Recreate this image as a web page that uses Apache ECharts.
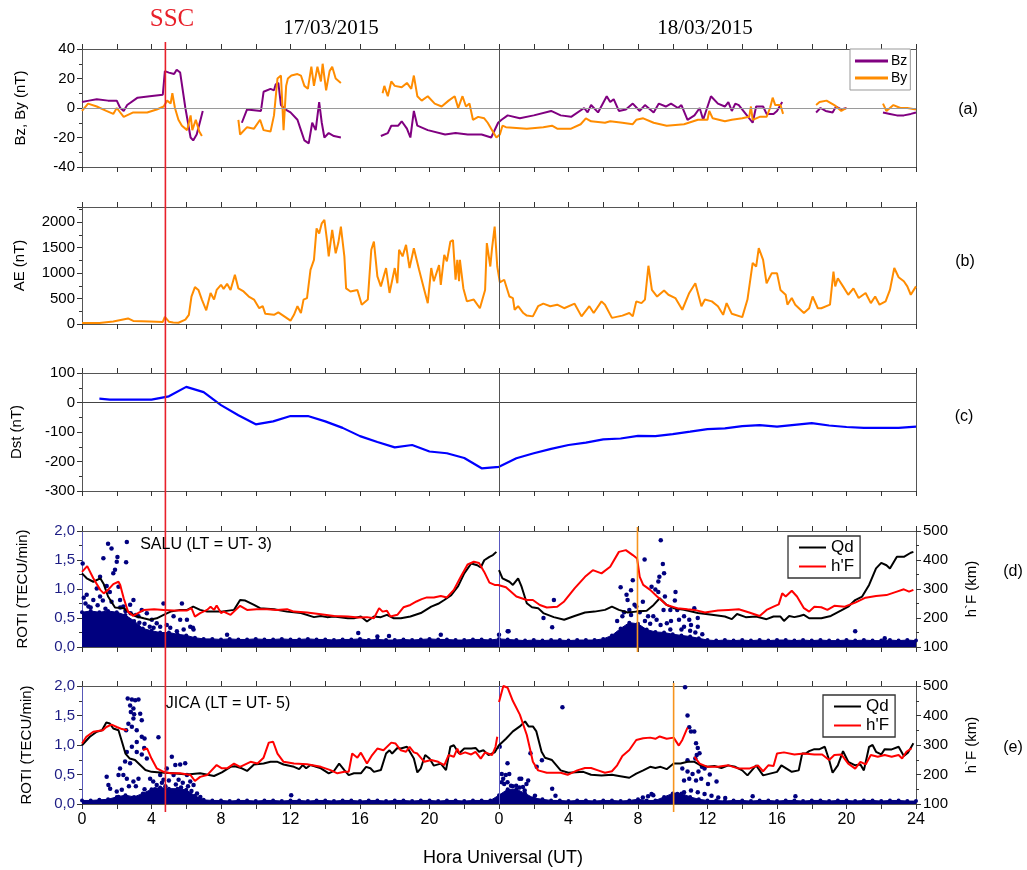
<!DOCTYPE html>
<html><head><meta charset="utf-8">
<script src="https://cdn.jsdelivr.net/npm/echarts@6/dist/echarts.min.js"></script>
<style>html,body{margin:0;padding:0;background:#fff}#c{width:1027px;height:870px}</style>
</head><body><div id="c"></div>
<script>
// ---------- DATA (hours counted from 17/03/2015 00 UT; 24..48 = 18/03/2015) ----------
const xTickLabels = ['0','4','8','12','16','20','0','4','8','12','16','20','24'];
const SSC_UT = 4.8;
const SPREADF_SALU = 31.97;
const SPREADF_JICA = 34.05;

const bz = [[0,4],[0.4,5],[0.85,6],[1.5,5],[2.0,5],[2.2,0],[2.4,-2],[2.6,2],[3.2,7],[3.9,8],[4.65,9],[4.77,25],[5.0,24],[5.3,23],[5.45,26],[5.65,24],[5.95,0],[6.25,-20],[6.4,-22],[6.6,-18],[6.8,-9],[6.95,-2],
[8,null],
[9.2,-10],[9.5,-1],[10.3,-2],[10.45,11],[10.85,13],[11.05,12],[11.15,16],[11.3,17],[11.45,2],[11.7,-1],[12.0,-3],[12.4,-8],[12.6,-15],[12.8,-22],[13.05,-24],[13.25,-10],[13.45,-15],[13.65,4],[13.8,-10],[13.95,-20],[14.2,-17],[14.5,-19],[14.9,-20],
[16,null],
[17.2,-19],[17.6,-17],[17.8,-12],[18.2,-12],[18.4,-9],[18.7,-14],[18.9,-20],[19.1,-2],[19.3,-12],[19.9,-15],[20.9,-18],[21.5,-17],[22.2,-18],[23.0,-18],[23.55,-20],[23.95,-10],[24.15,-8],[24.5,-5],[25.2,-7],[26.0,-5],[27.0,-2],[27.55,-5],[28.15,-6],[28.9,0],[29.1,-3],[29.3,2],[29.7,-3],[30.2,8],[30.4,4],[30.6,6],[30.9,-2],[31.3,-1],[31.7,3],[32.1,-2],[32.4,2],[32.9,-3],[33.2,3],[33.6,1],[33.9,3],[34.3,0],[34.5,2],[34.85,-8],[35.25,-5],[35.55,0],[35.75,-8],[36.2,8],[36.6,3],[37.0,1],[37.2,4],[37.4,-2],[37.6,3],[37.8,2],[38.2,-4],[38.6,-10],[38.8,1],[39.2,1],[39.4,-4],[39.8,-4],[40.0,-2],[40.3,4],
[41,null],
[42.25,-3],[42.5,0],[42.8,-2],[43.2,-3],[43.4,1],[43.7,-1],[44.0,0],
[45,null],
[46.1,-3],[46.5,-4],[46.9,-5],[47.3,-5],[47.7,-4],[48,-3]];

const by = [[0,-2],[0.35,3],[0.85,1],[1.4,-2],[1.8,-4],[2.0,0],[2.4,-6],[2.95,-3],[3.75,-3],[4.3,-1],[4.7,1],[4.9,5],[5.1,3],[5.2,10],[5.35,0],[5.55,-8],[5.75,-12],[6.05,-15],[6.25,-5],[6.35,-15],[6.55,-8],[6.75,-16],[6.9,-19],
[8,null],
[9.0,-8],[9.1,-18],[9.5,-13],[9.9,-14],[10.25,-8],[10.45,-15],[10.85,-16],[11.05,-5],[11.25,20],[11.45,22],[11.6,-15],[11.75,15],[11.85,20],[12.05,22],[12.4,23],[12.6,22],[12.8,15],[13.0,13],[13.2,28],[13.35,15],[13.55,28],[13.75,18],[13.85,30],[14.05,12],[14.25,25],[14.4,28],[14.6,20],[14.9,17],
[16,null],
[17.3,10],[17.4,15],[17.6,8],[17.8,18],[18.0,15],[18.4,14],[18.7,17],[18.95,13],[19.1,22],[19.3,8],[19.55,5],[19.9,8],[20.3,3],[20.7,1],[21.1,5],[21.45,8],[21.65,0],[21.9,8],[22.1,1],[22.3,3],[22.5,-8],[22.8,-6],[23.15,-7],[23.35,-10],[23.55,-14],[23.85,-20],[24.05,-18],[24.2,-12],[24.4,-13],[25.6,-14],[26.55,-13],[27.05,-12],[27.35,-14],[28.15,-14],[28.7,-11],[29.0,-7],[29.3,-9],[30.1,-10],[30.4,-9],[31.1,-10],[31.7,-11],[31.9,-8],[32.3,-7],[32.9,-10],[33.65,-12],[34.65,-11],[35.45,-8],[36.0,-8],[36.1,-2],[36.3,-7],[37.0,-9],[37.4,-8],[38.0,-7],[38.4,-6],[38.5,1],[38.6,-8],[39.0,-6],[39.4,-6],[39.6,0],[39.75,7],[39.9,2],[40.2,2],[40.35,-4],
[41,null],
[42.25,2],[42.45,4],[42.85,5],[43.3,2],[43.7,-2],[44.0,0],
[45,null],
[46.1,3],[46.3,-2],[46.7,2],[47.1,0],[47.5,0],[48,-1]];

const ae = [[0,20],[1.0,20],[1.8,50],[2.65,110],[2.95,60],[3.9,50],[4.65,40],[4.77,140],[5.0,45],[5.25,30],[5.55,25],[5.95,85],[6.15,180],[6.3,540],[6.5,725],[6.7,670],[6.9,480],[7.15,270],[7.4,610],[7.6,480],[7.75,670],[8.0,770],[8.15,690],[8.35,790],[8.55,670],[8.8,970],[9.0,700],[9.3,640],[9.6,540],[9.9,480],[10.2,310],[10.4,350],[10.55,200],[11.05,180],[11.3,230],[11.6,160],[12.0,65],[12.2,180],[12.4,350],[12.6,215],[12.75,480],[12.95,510],[13.15,1065],[13.35,1260],[13.5,1880],[13.65,1780],[13.8,1980],[13.95,2045],[14.1,1650],[14.2,1330],[14.4,1850],[14.6,1390],[14.75,1590],[14.9,1915],[15.1,1330],[15.2,700],[15.45,640],[15.85,670],[16.1,380],[16.45,480],[16.65,1460],[16.8,1620],[17.0,935],[17.2,740],[17.5,1100],[17.7,610],[18.0,1100],[18.15,800],[18.25,1460],[18.45,1330],[18.65,1555],[18.85,1100],[19.1,1490],[19.4,1065],[19.7,670],[19.9,410],[20.1,1100],[20.25,840],[20.55,1160],[20.65,770],[20.85,1360],[21.0,1230],[21.2,1620],[21.35,1650],[21.5,870],[21.6,1260],[21.7,840],[21.75,1260],[21.95,700],[22.15,445],[22.55,480],[22.9,310],[23.2,670],[23.3,1590],[23.5,1130],[23.6,1490],[23.75,1915],[23.9,1130],[24.0,1100],[24.05,820],[24.3,870],[24.6,540],[24.8,510],[24.9,280],[25.1,350],[25.4,215],[25.6,165],[25.95,150],[26.25,350],[26.55,400],[26.95,350],[27.35,380],[27.75,310],[28.35,400],[28.75,150],[29.2,350],[29.45,215],[29.9,445],[30.1,380],[30.5,120],[31.1,165],[31.5,215],[31.7,150],[31.9,445],[32.2,410],[32.4,480],[32.6,1145],[32.8,670],[33.1,540],[33.5,660],[33.75,575],[34.15,510],[34.55,280],[34.95,610],[35.3,800],[35.65,350],[35.85,480],[36.25,445],[36.6,350],[36.9,180],[37.1,410],[37.4,200],[38.0,135],[38.3,480],[38.6,1200],[38.8,1130],[38.95,1490],[39.2,1260],[39.4,800],[39.7,1000],[40.0,1000],[40.2,670],[40.5,575],[40.6,380],[40.85,510],[41.05,380],[41.55,215],[41.85,310],[42.05,540],[42.35,310],[42.55,310],[43.05,380],[43.25,1030],[43.35,740],[43.5,900],[43.8,740],[44.1,575],[44.4,700],[44.7,510],[45.1,610],[45.4,410],[45.65,540],[45.9,380],[46.25,445],[46.5,670],[46.75,1100],[47.0,920],[47.3,840],[47.5,740],[47.7,575],[48.0,740]];

const dst = [[1,13],[1.6,10],[4,10],[5,21],[6,53],[7,35],[8,-9],[9,-43],[10,-74],[11,-64],[12,-46],[13,-46],[14,-64],[15,-86],[16,-114],[17,-134],[18,-152],[19,-144],[20,-166],[21,-172],[22,-188],[23,-223],[24,-218],[25,-189],[26,-172],[27,-157],[28,-144],[29,-136],[30,-125],[31,-122],[32,-113],[33,-114],[34,-107],[35,-99],[36,-90],[37,-88],[38,-80],[39,-77],[40,-82],[41,-76],[42,-70],[43,-78],[44,-83],[45,-86],[46,-86],[47,-86],[48,-82]];

// Panel (d) SALU
const qdSalu = [[0,354],[0.27,337],[0.65,325],[1.05,337],[1.25,317],[1.5,274],[1.9,236],[2.4,234],[2.65,222],[3.15,205],[3.55,199],[3.9,194],[4.3,199],[4.7,211],[5.1,222],[5.65,228],[6.05,228],[6.4,239],[6.8,228],[7.2,222],[8.0,222],[8.75,228],[9.1,262],[9.4,260],[9.9,245],[10.25,234],[11.05,230],[11.8,222],[12.6,217],[13.35,203],[13.75,207],[14.1,203],[14.5,205],[15.3,199],[15.65,199],[16.05,205],[16.4,188],[16.8,205],[17.2,203],[17.55,211],[17.95,199],[18.35,199],[18.9,205],[19.5,217],[20.1,239],[20.5,249],[20.85,262],[21.25,279],[21.65,310],[22.0,354],[22.4,388],[22.75,382],[22.95,374],[23.15,399],[23.45,411],[23.65,417],[23.85,428],
[23.95,null],
[24,365],[24.2,337],[24.6,325],[24.8,314],[25.1,337],[25.3,308],[25.6,251],[25.9,237],[26.25,234],[26.55,217],[27.15,203],[27.75,194],[28.35,207],[28.95,219],[29.5,222],[30.1,228],[30.5,239],[30.9,228],[31.4,219],[31.9,222],[32.5,225],[32.9,245],[33.25,268],[33.65,245],[34.05,234],[34.65,228],[35.45,217],[36.25,211],[37.0,205],[37.4,196],[37.7,214],[38.2,203],[38.8,205],[39.4,196],[39.8,205],[40.2,205],[40.4,190],[40.7,207],[41.0,203],[41.3,207],[41.55,211],[41.85,199],[42.55,199],[43.1,207],[43.7,226],[44.1,239],[44.5,262],[44.9,274],[45.3,314],[45.7,371],[46.0,390],[46.3,382],[46.5,371],[46.9,411],[47.3,411],[47.7,425],[47.85,428]];

const hfSalu = [[0,359],[0.3,379],[0.65,337],[1.05,297],[1.25,285],[1.5,297],[1.8,317],[2.1,325],[2.2,314],[2.4,268],[2.65,222],[2.95,207],[3.55,228],[4.15,230],[4.7,228],[5.25,226],[6.05,226],[6.3,234],[6.5,205],[6.8,217],[7.2,228],[7.4,239],[7.6,228],[7.75,243],[8.0,217],[8.15,222],[8.55,211],[8.85,228],[9.1,242],[9.5,228],[10.05,230],[10.65,230],[11.2,228],[11.8,230],[12.2,222],[12.95,219],[13.75,213],[14.5,207],[15.3,205],[15.9,202],[16.4,203],[16.8,199],[17.1,234],[17.3,222],[17.55,225],[17.75,205],[18.15,211],[18.5,237],[18.9,245],[19.25,257],[19.55,265],[19.85,271],[20.25,271],[20.65,276],[21.0,271],[21.4,297],[21.8,342],[22.2,385],[22.55,394],[22.85,390],[23.15,359],[23.45,322],[23.75,314],[23.95,314],
[24,314],[24.4,306],[25.0,274],[25.6,262],[25.95,262],[26.35,245],[26.75,236],[27.35,239],[27.75,257],[28.35,302],[28.95,342],[29.4,365],[29.9,354],[30.4,377],[30.9,428],[31.3,434],[31.7,417],[31.95,405],[32.1,342],[32.3,314],[32.7,297],[33.1,274],[33.65,245],[34.25,234],[34.85,230],[35.25,228],[35.85,219],[36.6,226],[37.2,228],[37.8,230],[38.4,219],[39.0,207],[39.4,228],[39.8,239],[40.1,247],[40.3,285],[40.5,274],[40.85,294],[41.15,274],[41.55,234],[41.85,222],[42.15,239],[42.55,237],[42.9,228],[43.3,242],[43.9,239],[44.5,253],[45.1,270],[45.7,276],[46.3,279],[46.9,291],[47.3,299],[47.6,291],[47.85,297]];

// dense ROTI band top (one value every half hour, 0..48 h)
const rotiBandSalu = [0.60,0.62,0.60,0.62,0.60,0.55,0.45,0.32,0.28,0.25,0.25,0.22,0.20,0.16,0.14,0.14,0.13,0.14,0.13,0.13,0.14,0.13,0.13,0.14,0.13,0.13,0.14,0.13,0.13,0.12,0.13,0.13,0.14,0.12,0.13,0.12,0.12,0.13,0.12,0.13,0.14,0.13,0.13,0.12,0.12,0.13,0.13,0.12,
0.14,0.13,0.12,0.11,0.12,0.11,0.12,0.12,0.11,0.12,0.12,0.12,0.14,0.20,0.32,0.42,0.40,0.30,0.26,0.25,0.22,0.20,0.18,0.15,0.12,0.11,0.12,0.11,0.12,0.11,0.12,0.11,0.12,0.12,0.11,0.12,0.11,0.12,0.11,0.11,0.12,0.11,0.12,0.11,0.11,0.12,0.11,0.12,0.11];

const rotiDotsSalu = [[1.5,1.78],[1.7,1.70],[2.58,1.81],[1.23,1.53],[2.04,1.55],[2.0,1.47],[2.54,1.46],[1.9,1.33],[1.8,1.27],[0.04,1.44],[1.04,1.21],[1.42,1.05],[0.85,1.01],[0.27,0.90],[1.04,0.87],[1.6,0.95],[2.1,1.04],[2.96,0.81],[2.77,0.73],[0.65,0.81],[0.37,0.70],[2.19,0.81],[2.38,0.70],[4.69,0.75],[4.02,0.47],[4.3,0.41],[4.5,0.35],[4.88,0.38],[5.27,0.53],[5.75,0.75],[5.65,0.47],[6.04,0.47],[6.23,0.35],[6.42,0.30],[6.38,0.33],[3.44,0.64],[3.73,0.58],[3.25,0.53],[4.12,0.33],[5.08,0.33],[5.46,0.27],[5.85,0.30],[8.35,0.21],[15.9,0.24],[17.0,0.18],[17.67,0.19],[20.65,0.21],[24.0,0.21],[24.5,0.27],
[0.2,0.75],[0.5,0.68],[0.9,0.72],[1.2,0.80],[1.35,0.66],[1.7,0.78],[2.2,0.68],[2.5,0.62],[0.1,0.85],[3.1,0.55],[3.3,0.42],[2.8,0.58],[3.6,0.40],[3.9,0.35],
[24.55,0.27],[26.56,0.50],[27.16,0.81],[27.06,0.34],[31.0,1.03],[31.34,0.90],[31.4,0.81],[31.6,0.98],[31.7,1.15],[31.8,0.73],[31.9,0.70],[32.28,0.78],[32.38,1.51],[32.78,1.04],[33.23,1.21],[33.31,1.84],[33.43,1.43],[33.5,1.27],[33.17,1.13],[33.17,0.95],[33.0,0.99],[33.55,0.87],[34.16,0.95],[34.12,0.80],[33.86,0.64],[34.26,0.64],[34.65,0.53],[35.24,0.67],[34.95,0.47],[35.44,0.50],[31.5,0.64],[31.1,0.53],[32.58,0.53],[32.88,0.53],[33.47,0.64],[33.07,0.47],[33.66,0.41],[34.36,0.47],[34.65,0.35],[35.05,0.38],[35.44,0.35],[33.86,0.30],[44.5,0.27],[46.2,0.15],
[30.8,0.45],[31.2,0.60],[31.6,0.55],[32.1,0.60],[32.4,0.45],[32.7,0.40],[33.3,0.38],[33.9,0.45],[34.5,0.30],[35.0,0.28],[35.3,0.25],[35.7,0.22]];

// Panel (e) JICA
const qdJica = [[0,299],[0.45,328],[0.85,345],[1.15,350],[1.4,376],[1.6,373],[1.8,356],[2.1,350],[2.3,311],[2.5,271],[2.75,254],[3.05,249],[3.35,232],[3.65,215],[4.0,209],[4.5,207],[5.25,204],[6.05,200],[6.8,204],[7.6,195],[8.05,207],[8.55,226],[8.8,228],[9.2,221],[9.5,212],[9.9,234],[10.45,237],[10.85,243],[11.25,243],[11.6,234],[12.2,226],[12.5,218],[12.7,232],[12.9,221],[13.15,232],[13.75,221],[14.2,204],[14.5,212],[14.8,237],[15.1,215],[15.35,198],[15.65,204],[16.05,204],[16.35,226],[16.6,221],[16.8,209],[17.2,215],[17.5,271],[17.7,282],[17.85,271],[18.15,290],[18.35,288],[18.7,294],[19.1,254],[19.3,207],[19.5,221],[19.75,266],[20.0,254],[20.25,230],[20.65,237],[20.95,215],[21.2,294],[21.4,299],[21.7,271],[22.0,288],[22.4,288],[22.65,290],[22.85,277],[23.1,282],[23.4,266],[23.75,275],[24.0,299],
[24.4,321],[24.8,346],[25.2,363],[25.5,380],[25.7,363],[25.95,363],[26.15,346],[26.45,277],[26.65,257],[27.05,249],[27.55,214],[28.0,206],[28.85,209],[29.3,199],[29.9,197],[30.5,199],[30.9,195],[31.5,189],[31.9,203],[32.3,214],[32.7,226],[33.0,222],[33.3,226],[33.65,218],[34.05,237],[34.45,237],[34.85,243],[35.25,243],[35.6,231],[36.0,226],[36.4,229],[36.8,222],[37.2,231],[37.6,226],[38.0,214],[38.3,197],[38.8,231],[39.2,197],[39.6,203],[40.0,209],[40.25,231],[40.55,220],[40.85,209],[41.25,214],[41.45,271],[41.65,271],[41.85,279],[42.15,286],[42.45,286],[42.75,294],[43.0,249],[43.2,206],[43.5,231],[43.8,279],[44.1,243],[44.5,231],[44.8,234],[45.0,214],[45.3,294],[45.5,300],[45.7,277],[46.0,268],[46.2,286],[46.6,285],[47.0,294],[47.3,263],[47.55,275],[47.85,306]];

const hfJica = [[0,305],[0.25,328],[0.65,345],[1.2,350],[1.4,361],[1.7,369],[2.0,361],[2.3,354],[2.6,350],
[3.0,null],
[3.5,283],[3.75,288],[4.0,254],[4.3,221],[4.7,209],[5.1,204],[5.65,204],[6.25,198],[6.5,178],[6.8,192],[7.2,198],[7.75,232],[8.05,221],[8.35,221],[8.75,237],[9.1,226],[9.7,243],[10.1,237],[10.45,257],[10.75,308],[11.0,311],[11.25,271],[11.6,243],[12.2,237],[12.95,235],[13.75,226],[14.3,215],[14.7,204],[15.1,209],[15.35,209],[15.55,271],[15.85,257],[16.05,274],[16.4,237],[16.7,266],[17.0,288],[17.35,282],[17.8,308],[18.05,305],[18.35,282],[18.65,277],[18.85,294],[19.1,275],[19.3,271],[19.7,243],[20.1,249],[20.5,243],[20.85,232],[21.1,266],[21.4,260],[21.6,288],[21.75,268],[22.05,275],[22.4,268],[22.65,277],[22.95,254],[23.2,275],[23.6,266],[23.8,294],[23.9,328],
[23.95,null],
[24.0,446],[24.25,500],[24.5,494],[24.8,449],[25.2,403],[25.6,334],[25.8,283],[25.95,243],[26.25,214],[26.75,206],[27.55,206],[27.95,199],[28.5,214],[28.95,222],[29.3,222],[29.7,214],[30.1,206],[30.5,211],[30.8,231],[31.1,263],[31.5,283],[31.9,317],[32.3,323],[32.7,325],[33.0,321],[33.25,329],[33.65,321],[34.05,325],[34.35,298],[34.55,317],[34.85,359],
[35.0,null],
[35.25,260],[35.55,237],[36.0,226],[36.6,226],[37.2,231],[37.8,220],[38.4,220],[38.9,231],[39.2,211],[39.5,231],[39.8,229],[40.0,271],[40.4,275],[41.0,268],[41.55,271],[42.15,268],[42.6,268],[43.0,249],[43.3,266],[43.7,268],[44.1,237],[44.5,220],[44.8,243],[45.1,234],[45.4,266],[45.8,260],[46.2,266],[46.6,260],[47.0,266],[47.2,254],[47.45,277],[47.75,289]];

const rotiBandJica = [0.06,0.06,0.07,0.08,0.12,0.15,0.12,0.18,0.25,0.28,0.26,0.26,0.24,0.14,0.07,0.06,0.06,0.05,0.06,0.06,0.05,0.06,0.06,0.05,0.06,0.06,0.05,0.06,0.06,0.05,0.06,0.06,0.05,0.06,0.06,0.05,0.06,0.06,0.05,0.06,0.06,0.05,0.06,0.06,0.05,0.06,0.06,0.06,
0.15,0.25,0.25,0.18,0.10,0.08,0.06,0.06,0.05,0.06,0.06,0.05,0.06,0.06,0.05,0.06,0.08,0.06,0.06,0.12,0.18,0.18,0.12,0.08,0.06,0.06,0.05,0.06,0.06,0.05,0.06,0.06,0.05,0.06,0.06,0.05,0.06,0.06,0.05,0.06,0.06,0.05,0.06,0.06,0.05,0.06,0.06,0.05,0.05];

const rotiDotsJica = [[2.63,1.79],[2.87,1.77],[3.06,1.76],[3.25,1.77],[2.77,1.67],[2.96,1.62],[2.81,1.56],[3.0,1.52],[3.35,1.53],[3.44,1.42],[2.96,1.45],[2.67,1.36],[2.54,1.25],[2.87,1.31],[3.15,1.25],[3.44,1.14],[3.6,1.11],[4.4,1.13],[3.15,1.05],[2.87,0.97],[3.58,0.95],[2.58,0.88],[3.15,0.88],[3.44,0.84],[3.73,0.77],[2.77,0.69],[2.48,0.72],[2.19,0.60],[1.42,0.46],[1.52,0.32],[1.62,0.26],[2.1,0.49],[2.38,0.49],[2.58,0.43],[2.96,0.38],[3.25,0.43],[2.0,0.21],[2.29,0.24],[2.92,0.10],[3.19,0.10],[5.17,0.80],[5.37,0.66],[5.65,0.67],[5.94,0.69],[4.88,0.60],[4.5,0.49],[5.27,0.49],[6.04,0.49],[3.92,0.43],[4.69,0.41],[5.56,0.41],[6.23,0.38],[6.42,0.32],[6.62,0.18],[6.81,0.12],[4.3,0.32],[3.83,0.18],[3.73,0.12],[12.04,0.15],[2.1,0.12],
[4.1,0.38],[4.6,0.36],[5.0,0.40],[5.4,0.33],[5.8,0.36],[6.1,0.30],[4.2,0.25],[4.8,0.30],[5.2,0.22],[5.7,0.28],[6.3,0.22],[3.6,0.25],[3.1,0.30],[2.7,0.30],
[24.04,0.97],[24.49,0.69],[24.16,0.51],[24.39,0.49],[24.59,0.51],[25.18,0.43],[25.58,0.34],[25.68,0.40],[25.81,0.86],[26.17,0.63],[26.47,0.74],[27.06,0.26],[27.25,0.14],[27.65,1.64],[24.16,0.37],[24.3,0.34],[24.49,0.37],[24.69,0.31],[24.79,0.30],[24.99,0.31],[25.18,0.28],[25.38,0.29],[25.48,0.23],[26.07,0.14],[25.28,0.43],[24.24,0.43],
[32.28,0.11],[32.58,0.13],[32.78,0.17],[32.88,0.15],
[34.71,1.98],[34.85,1.50],[34.95,1.30],[35.05,1.23],[35.24,1.23],[35.34,1.03],[35.44,0.95],[35.38,0.83],[35.3,0.77],[35.54,0.86],[34.85,0.74],[34.55,0.60],[34.85,0.55],[35.14,0.51],[35.48,0.55],[35.68,0.63],[35.83,0.60],[36.13,0.50],[34.65,0.40],[34.95,0.43],[35.34,0.40],[35.64,0.43],[36.03,0.34],[36.52,0.38],[34.26,0.17],[34.65,0.20],[35.05,0.23],[35.44,0.20],[35.83,0.17],[36.23,0.14],[36.62,0.11],[37.02,0.10],[41.06,0.13],[38.6,0.13]];

// ---------- CHART ----------
const FONT = '"Liberation Sans", Arial, sans-serif';
const AX = '#555';
const NAVY = '#00007f';
const gridPos = [{top:49,height:118},{top:207,height:117},{top:373,height:118},{top:531,height:116},{top:686,height:118}];
const grid = gridPos.map(g => ({left:82, width:834, top:g.top, height:g.height}));

function xAxisFor(i, pos){
  return {type:'value', gridIndex:i, min:0, max:48, interval:4, position:pos,
    axisLine:{show:true, onZero:false, lineStyle:{color:AX, width:1}},
    axisTick:{show:true, length:5, lineStyle:{color:'#333'}},
    minorTick:{show:true, splitNumber:2, length:5, lineStyle:{color:'#333'}},
    splitLine:{show:false},
    axisLabel:{show: pos==='bottom' && i===4, color:'#000', fontSize:16, fontFamily:FONT, margin:8,
      formatter: v => xTickLabels[Math.round(v/4)]}};
}
function yLeft(i, min, max, interval, name, gap, fmt, lblColor, lineColor){
  return {type:'value', gridIndex:i, position:'left', min, max, interval,
    name, nameLocation:'middle', nameGap:gap, nameRotate:90,
    nameTextStyle:{fontSize:15, fontFamily:FONT, color:'#000'},
    axisLine:{show:true, onZero:false, lineStyle:{color:lineColor||AX}},
    axisTick:{show:true, length:5, lineStyle:{color:'#333'}},
    minorTick:{show:true, splitNumber:2, length:3, lineStyle:{color:'#333'}},
    splitLine:{show:false},
    axisLabel:{fontSize:15, fontFamily:FONT, color:lblColor||'#000', margin:7, formatter:fmt}};
}
function yRightBlank(i){
  return {type:'value', gridIndex:i, position:'right', min:0, max:1,
    axisLine:{show:true, onZero:false, lineStyle:{color:AX}}, axisTick:{show:false}, axisLabel:{show:false}, splitLine:{show:false}};
}
function yRightKm(i){
  return {type:'value', gridIndex:i, position:'right', min:100, max:500, interval:100,
    name:'h`F (km)', nameLocation:'middle', nameGap:48, nameRotate:90,
    nameTextStyle:{fontSize:15, fontFamily:FONT, color:'#000'},
    axisLine:{show:true, onZero:false, lineStyle:{color:AX}},
    axisTick:{show:true, length:5, lineStyle:{color:'#333'}},
    minorTick:{show:true, splitNumber:2, length:3, lineStyle:{color:'#333'}},
    splitLine:{show:false},
    axisLabel:{fontSize:15, fontFamily:FONT, color:'#000', margin:7}};
}
const rotiFmt = v => v.toFixed(1).replace('.', ',');

const xAxis = [];
for (let i=0;i<5;i++) xAxis.push(xAxisFor(i,'bottom'));
for (let i=0;i<5;i++) xAxis.push(xAxisFor(i,'top'));

const yAxis = [
  yLeft(0,-40,40,20,'Bz, By (nT)',54),
  yLeft(1,0,2300,500,'AE (nT)',55, v => v>2000 ? '' : String(v)),
  yLeft(2,-300,100,100,'Dst (nT)',58),
  yLeft(3,0,2,0.5,'ROTI (TECU/min)',52, rotiFmt, '#1c1c84', '#5858b8'),
  yLeft(4,0,2,0.5,'ROTI (TECU/min)',48, rotiFmt, '#1c1c84', '#5858b8'),
  yRightBlank(0), yRightBlank(1), yRightBlank(2), yRightKm(3), yRightKm(4)
];

function vLine(x, color){ return {xAxis:x, lineStyle:{color, width:1, type:'solid'}}; }
function hLine(y, color){ return {yAxis:y, lineStyle:{color, width:1, type:'solid'}}; }
function mk(items){ return {silent:true, symbol:'none', label:{show:false}, animation:false, data:items}; }

const lineBase = {type:'line', symbol:'none', showSymbol:false, connectNulls:false, animation:false};
const band = arr => arr.map((v,i) => [i*0.5, v]);

const series = [
  Object.assign({}, lineBase, {name:'Bz', xAxisIndex:0, yAxisIndex:0, data:bz, z:3,
    lineStyle:{color:'#800080', width:2}, itemStyle:{color:'#800080'},
    markLine: mk([hLine(0,'#9a9a9a'), vLine(24,'#555')])}),
  Object.assign({}, lineBase, {name:'By', xAxisIndex:0, yAxisIndex:0, data:by, z:4,
    lineStyle:{color:'#ff8c00', width:2}, itemStyle:{color:'#ff8c00'}}),
  Object.assign({}, lineBase, {name:'AE', xAxisIndex:1, yAxisIndex:1, data:ae,
    lineStyle:{color:'#ff8c00', width:2}, itemStyle:{color:'#ff8c00'},
    markLine: mk([vLine(24,'#555')])}),
  Object.assign({}, lineBase, {name:'Dst', xAxisIndex:2, yAxisIndex:2, data:dst,
    lineStyle:{color:'#0000ff', width:2.2}, itemStyle:{color:'#0000ff'},
    markLine: mk([hLine(0,'#444'), vLine(24,'#555')])}),
  // panel d
  {type:'line', name:'ROTI band SALU', xAxisIndex:3, yAxisIndex:3, data:band(rotiBandSalu), animation:false,
    symbol:'circle', symbolSize:4, showSymbol:true, z:1,
    lineStyle:{color:NAVY, width:1}, itemStyle:{color:NAVY, opacity:1}, areaStyle:{color:NAVY, opacity:1, origin:'start'},
    markLine: mk([vLine(24,'#5858c0')])},
  {type:'scatter', name:'ROTI SALU', xAxisIndex:3, yAxisIndex:3, data:rotiDotsSalu, symbolSize:4.5, z:1,
    itemStyle:{color:NAVY, opacity:1}, animation:false},
  Object.assign({}, lineBase, {name:'Qd', xAxisIndex:3, yAxisIndex:8, data:qdSalu, z:5,
    lineStyle:{color:'#000', width:2}, itemStyle:{color:'#000'}}),
  Object.assign({}, lineBase, {name:"h'F", xAxisIndex:3, yAxisIndex:8, data:hfSalu, z:6,
    lineStyle:{color:'#ff0000', width:2}, itemStyle:{color:'#ff0000'}}),
  // panel e
  {type:'line', name:'ROTI band JICA', xAxisIndex:4, yAxisIndex:4, data:band(rotiBandJica), animation:false,
    symbol:'circle', symbolSize:4, showSymbol:true, z:1,
    lineStyle:{color:NAVY, width:1}, itemStyle:{color:NAVY, opacity:1}, areaStyle:{color:NAVY, opacity:1, origin:'start'},
    markLine: mk([vLine(24,'#5858c0')])},
  {type:'scatter', name:'ROTI JICA', xAxisIndex:4, yAxisIndex:4, data:rotiDotsJica, symbolSize:4.5, z:1,
    itemStyle:{color:NAVY, opacity:1}, animation:false},
  Object.assign({}, lineBase, {name:'Qd', xAxisIndex:4, yAxisIndex:9, data:qdJica, z:5,
    lineStyle:{color:'#000', width:2}, itemStyle:{color:'#000'}}),
  Object.assign({}, lineBase, {name:"h'F", xAxisIndex:4, yAxisIndex:9, data:hfJica, z:6,
    lineStyle:{color:'#ff0000', width:2}, itemStyle:{color:'#ff0000'}})
];

const legendBase = {orient:'vertical', backgroundColor:'#fff', borderColor:'#444', borderWidth:1,
  selectedMode:false, icon:'rect'};
const legend = [
  Object.assign({}, legendBase, {data:['Bz','By'], left:850, top:49, itemWidth:33, itemHeight:3, itemGap:3,
    padding:[5,3,5,5], borderColor:'#999', textStyle:{fontSize:14, fontFamily:FONT, color:'#000', padding:[0,0,0,-2]}}),
  Object.assign({}, legendBase, {data:['Qd',"h'F"], left:788, top:536, itemWidth:27, itemHeight:2, itemGap:2,
    padding:[3,6,3,11], borderWidth:1.3, borderColor:'#333', textStyle:{fontSize:17, fontFamily:FONT, color:'#000'}}),
  Object.assign({}, legendBase, {data:['Qd',"h'F"], left:823, top:695, itemWidth:27, itemHeight:2, itemGap:2,
    padding:[3,6,3,11], borderWidth:1.3, borderColor:'#333', textStyle:{fontSize:17, fontFamily:FONT, color:'#000'}})
];

function txt(id, text, x, y, font, fill){
  return {type:'text', id, x, y, z:50, silent:true,
    style:{text, font, fill: fill||'#000', align:'center', verticalAlign:'middle'}};
}
const SERIF = '"Liberation Serif", "Times New Roman", serif';
const graphic = [
  txt('ssc','SSC',172,19,'25px '+SERIF,'#e8202a'),
  txt('d1','17/03/2015',331,28,'21px '+SERIF),
  txt('d2','18/03/2015',705,28,'21px '+SERIF),
  txt('la','(a)',968,110,'16px '+FONT),
  txt('lb','(b)',965,262,'16px '+FONT),
  txt('lc','(c)',964,417,'16px '+FONT),
  txt('ld','(d)',1013,572,'16px '+FONT),
  txt('le','(e)',1013,748,'16px '+FONT),
  txt('salu','SALU (LT = UT- 3)',206,545,'16px '+FONT),
  txt('jica','JICA (LT = UT- 5)',228,704,'16px '+FONT),
  txt('xt','Hora Universal (UT)',503,858,'18px '+FONT)
];

const chart = echarts.init(document.getElementById('c'), null, {renderer:'canvas'});
chart.setOption({animation:false, backgroundColor:'#fff', grid, xAxis, yAxis, series, legend, graphic});

// vertical event markers, positioned through the axes' own scales
const pA = chart.convertToPixel({xAxisIndex:0, yAxisIndex:0}, [SSC_UT, 40]);
const pE = chart.convertToPixel({xAxisIndex:4, yAxisIndex:4}, [SSC_UT, 0]);
const pD1 = chart.convertToPixel({xAxisIndex:3, yAxisIndex:3}, [SPREADF_SALU, 2]);
const pD0 = chart.convertToPixel({xAxisIndex:3, yAxisIndex:3}, [SPREADF_SALU, 0]);
const pJ1 = chart.convertToPixel({xAxisIndex:4, yAxisIndex:4}, [SPREADF_JICA, 2]);
const pJ0 = chart.convertToPixel({xAxisIndex:4, yAxisIndex:4}, [SPREADF_JICA, 0]);
function vseg(id, x, y1, y2, color, w){
  return {type:'line', id, z:40, silent:true, shape:{x1:x, y1, x2:x, y2}, style:{stroke:color, lineWidth:w}};
}
chart.setOption({graphic: graphic.concat([
  vseg('sscLine', pA[0], pA[1]-7, pE[1]+8, '#e8202a', 1.6),
  vseg('sfD', pD1[0], pD1[1]-4, pD0[1]+5, '#f7941d', 1.6),
  vseg('sfE', pJ1[0], pJ1[1]-3, pJ0[1]+8, '#f7941d', 1.6)
])});
</script></body></html>
